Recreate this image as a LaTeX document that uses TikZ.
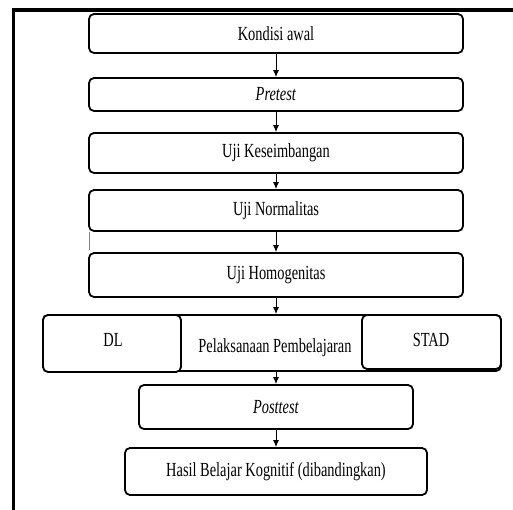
\documentclass[tikz,border=0pt]{standalone}
\usepackage{fontspec}
\setmainfont[FakeStretch=0.72]{Liberation Serif}
\usepackage{tikz}
\usetikzlibrary{shapes,calc,positioning,arrows.meta}

\begin{document}
\begin{tikzpicture}[x=1pt, y=-1pt,
                every node/.append style={font=\fontsize{20}{22}\selectfont},
                stepbox/.style={draw, rounded corners=5pt, line width=1.8pt,
                    inner sep=0pt, fill=white},
                flow/.style={-{Latex[length=7pt,width=6pt]}, line width=1pt}]
                \useasboundingbox (0,0) rectangle (513,510);
                % outer frame (only top and left)
                \draw[line width=3.5pt] (13.5,510) -- (13.5,10) -- (513,10);
                % main steps
                \node [stepbox, minimum width=374pt, minimum height=39pt] (awal) at (276,33.5) {Kondisi awal};
                \node [stepbox, minimum width=374pt, minimum height=33pt] (pretest) at (276,94.5) {\textit{Pretest}};
                \node [stepbox, minimum width=374pt, minimum height=40pt] (seimbang) at (276,153) {Uji Keseimbangan};
                \node [stepbox, minimum width=374pt, minimum height=41pt] (normal) at (276,210.5) {Uji Normalitas};
                \node [stepbox, minimum width=374pt, minimum height=44pt] (homogen) at (276,275) {Uji Homogenitas};
                % learning phase
                \node [stepbox, minimum width=458pt, minimum height=56pt] (pelaksanaan) at (272,343) {};
                \node (pelaksanaanlbl) at (275,348) {Pelaksanaan Pembelajaran};
                \node [stepbox, minimum width=138pt, minimum height=57pt] (dl) at (112,343.5) {};
                \node (dllbl) at (113,340) {DL};
                \node [stepbox, minimum width=139pt, minimum height=54pt] (stad) at (431.5,342) {};
                \node (stadlbl) at (431,340) {STAD};
                % evaluation
                \node [stepbox, minimum width=274pt, minimum height=44pt] (posttest) at (276,407) {\textit{Posttest}};
                \node [stepbox, minimum width=302pt, minimum height=47pt] (hasil) at (276,471.5) {Hasil Belajar Kognitif (dibandingkan)};
                \draw[flow] (awal) -- (pretest);
                \draw[flow] (pretest) -- (seimbang);
                \draw[flow] (seimbang) -- (normal);
                \draw[flow] (normal) -- (homogen);
                \draw[flow] (homogen.south) -- (homogen.south |- pelaksanaan.north);
                \draw[flow] (pelaksanaan.south -| posttest.north) -- (posttest.north);
                \draw[flow] (posttest) -- (hasil);
                % stray mark
                \draw[line width=0.6pt, gray] (89,232) -- (89,250);
\end{tikzpicture}
\end{document}
